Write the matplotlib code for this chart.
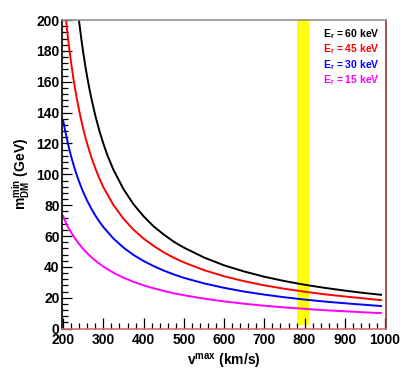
import numpy as np
import matplotlib
matplotlib.use("Agg")
import matplotlib.pyplot as plt
from matplotlib.ticker import MultipleLocator

plt.rcParams['font.family'] = ['Liberation Sans', 'DejaVu Sans']
plt.rcParams['font.weight'] = 'bold'
plt.rcParams['axes.labelweight'] = 'bold'
plt.rcParams['mathtext.fontset'] = 'custom'
plt.rcParams['mathtext.rm'] = 'Liberation Sans:bold'
plt.rcParams['mathtext.it'] = 'Liberation Sans:bold'
plt.rcParams['mathtext.bf'] = 'Liberation Sans:bold'

# values (v in km/s, m in GeV)
v_15 = [200, 210, 220, 230, 240, 250, 260, 270, 280, 290, 300, 325, 350, 375, 400, 425, 450, 475, 500,
        550, 600, 650, 700, 750, 800, 850, 900, 950, 990]
m_15 = [73.0, 66.8, 62.3, 58.3, 54.8, 51.6, 48.8, 46.4, 44.1, 42.1, 40.2, 36.2, 33.0, 30.3, 28.0, 26.1, 24.4, 22.9, 21.6,
        19.4, 17.6, 16.1, 14.8, 13.7, 12.8, 11.9, 11.2, 10.5, 10.0]
v_30 = [200, 205, 210, 215, 220, 225, 230, 235, 240, 245, 250, 260, 270, 280, 290, 300, 325, 350,
        375, 400, 425, 450, 475, 500, 550, 600, 650, 700, 750, 800, 850, 900, 950, 990]
m_30 = [135.2, 128.4, 122.3, 116.7, 111.6, 107.0, 102.7, 98.7, 95.1, 91.7, 88.5, 82.8, 77.8, 73.3, 69.4, 65.8, 58.4, 52.5,
        47.7, 43.8, 40.5, 37.6, 35.1, 32.9, 29.3, 26.4, 24.0, 22.0, 20.3, 18.8, 17.5, 16.4, 15.4, 14.6]
v_45 = [207, 210, 215, 220, 225, 230, 235, 240, 245, 250, 255, 260, 270, 280, 290, 300, 325, 350,
        375, 400, 425, 450, 475, 500, 550, 600, 650, 700, 750, 800, 850, 900, 950, 990]
m_45 = [200.5, 193.3, 182.1, 172.2, 163.2, 155.1, 147.8, 141.2, 135.1, 129.5, 124.4, 119.7, 111.2, 103.9, 97.4, 91.7, 80.1, 71.2,
        64.1, 58.3, 53.6, 49.4, 45.9, 42.9, 37.9, 33.9, 30.7, 28.0, 25.8, 23.9, 22.2, 20.8, 19.5, 18.4]
v_60 = [239, 240, 245, 250, 255, 260, 265, 270, 280, 290, 300, 310, 325, 350, 375, 400, 425, 450, 475, 500,
        550, 600, 650, 700, 750, 800, 850, 900, 950, 990]
m_60 = [200.8, 198.6, 188.3, 179.0, 170.5, 162.9, 155.9, 149.5, 138.1, 128.3, 119.9, 112.4, 103.0, 90.4, 80.6, 72.8, 66.2, 61.0, 56.3, 52.5,
        46.1, 41.0, 37.0, 33.6, 30.8, 28.4, 26.4, 24.6, 23.0, 21.9]

labels = ["60 keV", "45 keV", "30 keV", "15 keV"]
colors = ["black", "red", "blue", "magenta"]
band = [780, 810]
x_ticks = [200, 300, 400, 500, 600, 700, 800, 900, 1000]
y_ticks = [0, 20, 40, 60, 80, 100, 120, 140, 160, 180, 200]

fig = plt.figure(figsize=(4.07, 3.87), dpi=100)
ax = fig.add_axes([0.1516, 0.151, 0.7956, 0.797])

ax.fill_between(band, 2, 200, color="yellow", lw=0, zorder=1)
curves = [(v_60, m_60), (v_45, m_45), (v_30, m_30), (v_15, m_15)]
for (vv, mm), c in zip(curves, colors):
    ax.plot(vv, mm, color=c, lw=1.4, zorder=2, solid_joinstyle='round')

ax.set_xticks(x_ticks)
ax.set_xticklabels([str(t) for t in x_ticks], fontweight='bold', fontsize=10)
ax.set_yticks(y_ticks)
ax.set_yticklabels([str(t) for t in y_ticks], fontweight='bold', fontsize=10)
ax.xaxis.set_minor_locator(MultipleLocator(20))
ax.yaxis.set_minor_locator(MultipleLocator(4))
ax.set_xlim(196.5, 1001)
ax.set_ylim(0, 200)

ax.tick_params(which='both', direction='in', top=False, right=False, width=0.9)
ax.tick_params(axis='x', which='major', length=8, pad=3)
ax.tick_params(axis='x', which='minor', length=4.5)
ax.tick_params(axis='y', which='major', length=7, pad=1.5)
ax.tick_params(axis='y', which='minor', length=4)

ax.spines['left'].set_color('black')
ax.spines['bottom'].set_color('#d07070')
ax.spines['top'].set_color('#909090')
ax.spines['right'].set_color('#a03030')
for s in ax.spines.values():
    s.set_linewidth(1.2)

ax.set_xlabel(r"v$^{max}$ (km/s)", fontsize=10, fontweight='bold', labelpad=4)
ax.set_ylabel(r"m$_{DM}^{min}$ (GeV)", fontsize=10, fontweight='bold', labelpad=3)

for i, (lab, c) in enumerate(zip(labels, colors)):
    ax.text(0.808, 0.955 - i * 0.0497, "E$_{r}$ = " + lab, color=c, fontsize=7.5,
            fontweight='bold', transform=ax.transAxes, va='center', ha='left')

fig.savefig("out.png", dpi=100)
